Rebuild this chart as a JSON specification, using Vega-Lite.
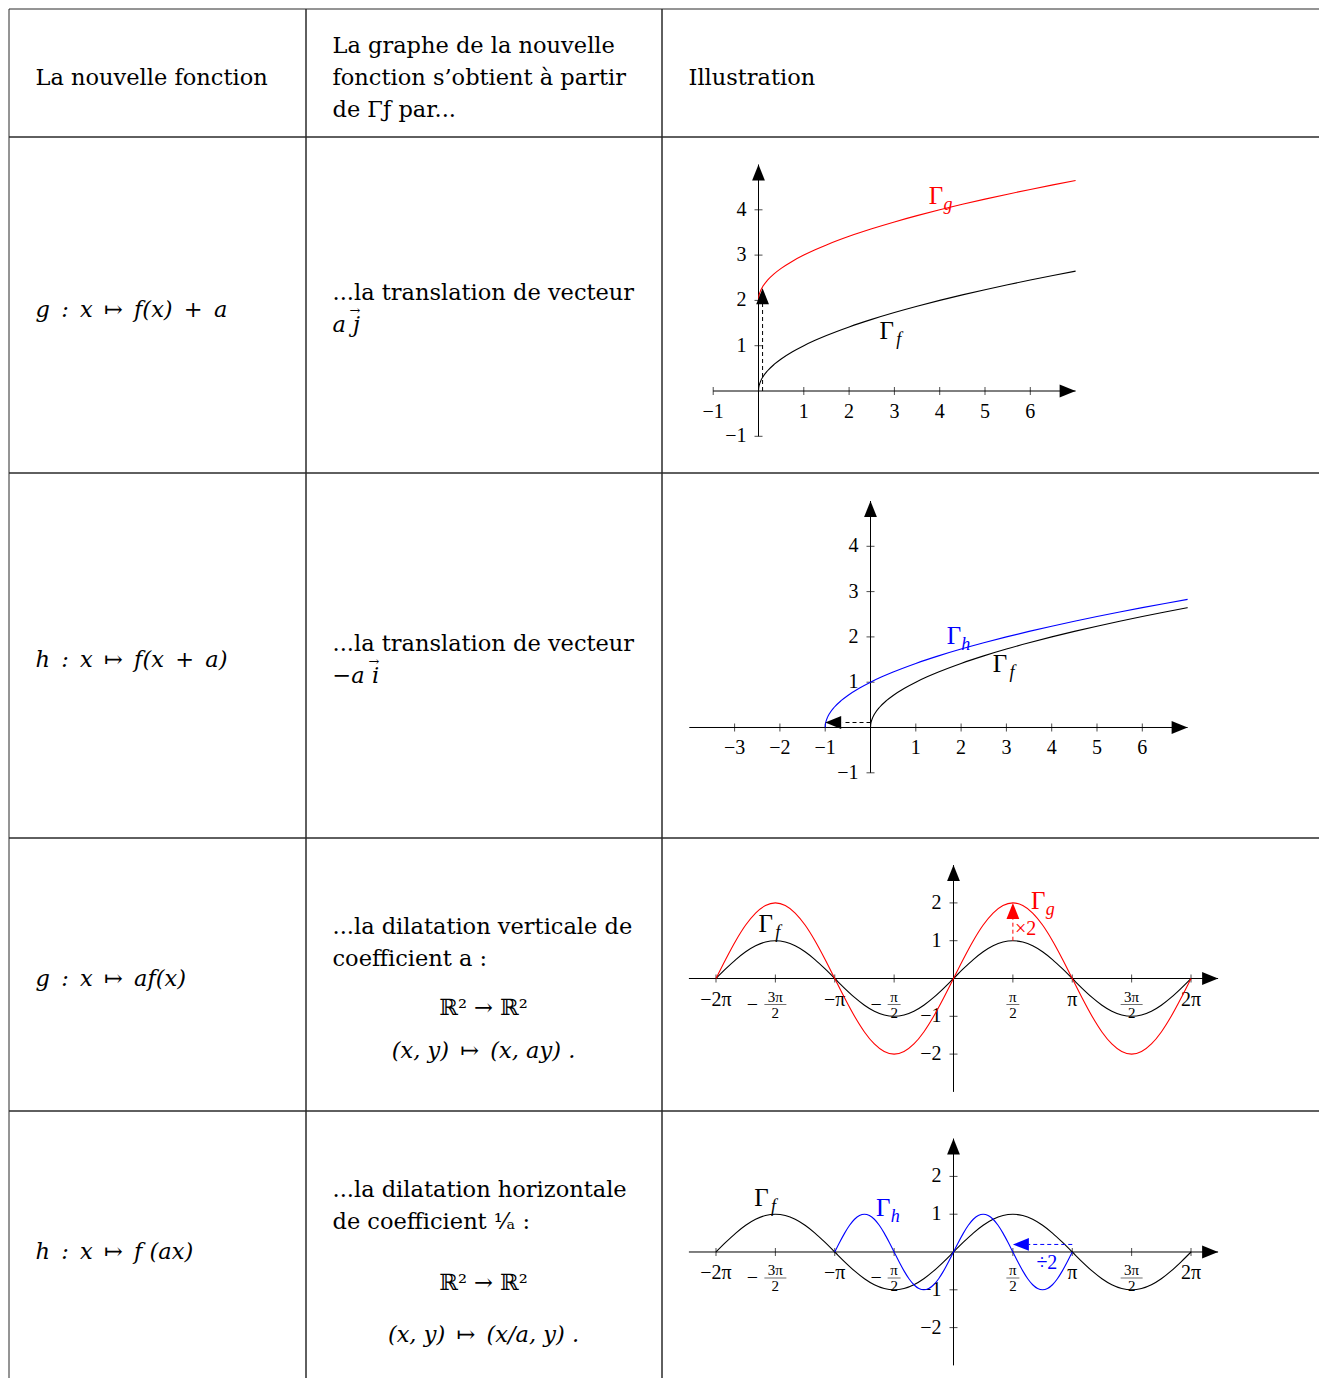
{
"$schema":"https://vega.github.io/schema/vega-lite/v6.json",
"padding":{"left":7.5,"top":7.5,"right":0,"bottom":0},
"background":"white",
"columns":3,
"spacing":0,
"bounds":"flush",
"align":"each",
"config":{"view":{"stroke":"#2a2a2a","strokeWidth":1},"font":"DejaVu Serif","concat":{"spacing":0}},
"datasets":{
"c1ax":[{"x":-1,"y":0,"x2":7,"y2":0},{"x":0,"y":-1,"x2":0,"y2":5}],
"c1xt":[{"x":-1,"y":0,"t":"−1"},{"x":1,"y":0,"t":"1"},{"x":2,"y":0,"t":"2"},{"x":3,"y":0,"t":"3"},{"x":4,"y":0,"t":"4"},{"x":5,"y":0,"t":"5"},{"x":6,"y":0,"t":"6"}],
"c1yt":[{"x":0,"y":-1,"t":"−1"},{"x":0,"y":1,"t":"1"},{"x":0,"y":2,"t":"2"},{"x":0,"y":3,"t":"3"},{"x":0,"y":4,"t":"4"}],
"sqf":[{"x":0,"y":0,"s":"f"},{"x":0.005,"y":0.0707,"s":"f"},{"x":0.01,"y":0.1,"s":"f"},{"x":0.02,"y":0.1414,"s":"f"},{"x":0.05,"y":0.2236,"s":"f"},{"x":0.1,"y":0.3162,"s":"f"},{"x":0.2,"y":0.4472,"s":"f"},{"x":0.35,"y":0.5916,"s":"f"},{"x":0.5,"y":0.7071,"s":"f"},{"x":0.75,"y":0.866,"s":"f"},{"x":1,"y":1,"s":"f"},{"x":1.25,"y":1.118,"s":"f"},{"x":1.5,"y":1.2247,"s":"f"},{"x":2,"y":1.4142,"s":"f"},{"x":2.5,"y":1.5811,"s":"f"},{"x":3,"y":1.7321,"s":"f"},{"x":3.5,"y":1.8708,"s":"f"},{"x":4,"y":2,"s":"f"},{"x":4.5,"y":2.1213,"s":"f"},{"x":5,"y":2.2361,"s":"f"},{"x":5.5,"y":2.3452,"s":"f"},{"x":6,"y":2.4495,"s":"f"},{"x":6.5,"y":2.5495,"s":"f"},{"x":7,"y":2.6458,"s":"f"}],
"sqg":[{"x":0,"y":2,"s":"g"},{"x":0.005,"y":2.0707,"s":"g"},{"x":0.01,"y":2.1,"s":"g"},{"x":0.02,"y":2.1414,"s":"g"},{"x":0.05,"y":2.2236,"s":"g"},{"x":0.1,"y":2.3162,"s":"g"},{"x":0.2,"y":2.4472,"s":"g"},{"x":0.35,"y":2.5916,"s":"g"},{"x":0.5,"y":2.7071,"s":"g"},{"x":0.75,"y":2.866,"s":"g"},{"x":1,"y":3,"s":"g"},{"x":1.25,"y":3.118,"s":"g"},{"x":1.5,"y":3.2247,"s":"g"},{"x":2,"y":3.4142,"s":"g"},{"x":2.5,"y":3.5811,"s":"g"},{"x":3,"y":3.7321,"s":"g"},{"x":3.5,"y":3.8708,"s":"g"},{"x":4,"y":4,"s":"g"},{"x":4.5,"y":4.1213,"s":"g"},{"x":5,"y":4.2361,"s":"g"},{"x":5.5,"y":4.3452,"s":"g"},{"x":6,"y":4.4495,"s":"g"},{"x":6.5,"y":4.5495,"s":"g"},{"x":7,"y":4.6458,"s":"g"}],
"sqh":[{"x":-1,"y":0,"s":"h"},{"x":-0.995,"y":0.0707,"s":"h"},{"x":-0.99,"y":0.1,"s":"h"},{"x":-0.98,"y":0.1414,"s":"h"},{"x":-0.95,"y":0.2236,"s":"h"},{"x":-0.9,"y":0.3162,"s":"h"},{"x":-0.8,"y":0.4472,"s":"h"},{"x":-0.65,"y":0.5916,"s":"h"},{"x":-0.5,"y":0.7071,"s":"h"},{"x":-0.25,"y":0.866,"s":"h"},{"x":0,"y":1,"s":"h"},{"x":0.25,"y":1.118,"s":"h"},{"x":0.5,"y":1.2247,"s":"h"},{"x":1,"y":1.4142,"s":"h"},{"x":1.5,"y":1.5811,"s":"h"},{"x":2,"y":1.7321,"s":"h"},{"x":2.5,"y":1.8708,"s":"h"},{"x":3,"y":2,"s":"h"},{"x":3.5,"y":2.1213,"s":"h"},{"x":4,"y":2.2361,"s":"h"},{"x":4.5,"y":2.3452,"s":"h"},{"x":5,"y":2.4495,"s":"h"},{"x":5.5,"y":2.5495,"s":"h"},{"x":6,"y":2.6458,"s":"h"},{"x":6.5,"y":2.7386,"s":"h"},{"x":7,"y":2.8284,"s":"h"}],
"c1da":[{"x":0.09,"y":0,"x2":0.09,"y2":1.93,"s":"f"}],
"c1hd":[{"x":7,"y":0,"d":"right","s":"f"},{"x":0,"y":5,"d":"up","s":"f"},{"x":0.09,"y":2.27,"d":"up","s":"f"}],
"c1lb":[{"x":3.92,"y":4.3,"sub":"g","s":"g"},{"x":2.83,"y":1.32,"sub":"f","s":"f"}],
"c2ax":[{"x":-4,"y":0,"x2":7,"y2":0},{"x":0,"y":-1,"x2":0,"y2":5}],
"c2xt":[{"x":-3,"y":0,"t":"−3"},{"x":-2,"y":0,"t":"−2"},{"x":-1,"y":0,"t":"−1"},{"x":1,"y":0,"t":"1"},{"x":2,"y":0,"t":"2"},{"x":3,"y":0,"t":"3"},{"x":4,"y":0,"t":"4"},{"x":5,"y":0,"t":"5"},{"x":6,"y":0,"t":"6"}],
"c2da":[{"x":0,"y":0.11,"x2":-0.62,"y2":0.11,"s":"f"}],
"c2hd":[{"x":7,"y":0,"d":"right","s":"f"},{"x":0,"y":5,"d":"up","s":"f"},{"x":-1,"y":0.11,"d":"left","s":"f"}],
"c2lb":[{"x":1.84,"y":2.02,"sub":"h","s":"h"},{"x":2.86,"y":1.4,"sub":"f","s":"f"}],
"sax":[{"x":-7,"y":0,"x2":7,"y2":0},{"x":0,"y":-3,"x2":0,"y2":3}],
"sx":[{"x":-6.2832,"y":0,"t":"−2π","n":"","d":"","sg":""},{"x":-4.7124,"y":0,"t":"","n":"3π","d":"2","sg":"−"},{"x":-3.1416,"y":0,"t":"−π","n":"","d":"","sg":""},{"x":-1.5708,"y":0,"t":"","n":"π","d":"2","sg":"−"},{"x":1.5708,"y":0,"t":"","n":"π","d":"2","sg":""},{"x":3.1416,"y":0,"t":"π","n":"","d":"","sg":""},{"x":4.7124,"y":0,"t":"","n":"3π","d":"2","sg":""},{"x":6.2832,"y":0,"t":"2π","n":"","d":"","sg":""}],
"sy":[{"x":0,"y":-2,"t":"−2"},{"x":0,"y":-1,"t":"−1"},{"x":0,"y":1,"t":"1"},{"x":0,"y":2,"t":"2"}],
"sinf":[{"x":-6.2832,"y":0,"s":"f"},{"x":-6.0214,"y":0.2588,"s":"f"},{"x":-5.7596,"y":0.5,"s":"f"},{"x":-5.4978,"y":0.7071,"s":"f"},{"x":-5.236,"y":0.866,"s":"f"},{"x":-4.9742,"y":0.9659,"s":"f"},{"x":-4.7124,"y":1,"s":"f"},{"x":-4.4506,"y":0.9659,"s":"f"},{"x":-4.1888,"y":0.866,"s":"f"},{"x":-3.927,"y":0.7071,"s":"f"},{"x":-3.6652,"y":0.5,"s":"f"},{"x":-3.4034,"y":0.2588,"s":"f"},{"x":-3.1416,"y":0,"s":"f"},{"x":-2.8798,"y":-0.2588,"s":"f"},{"x":-2.618,"y":-0.5,"s":"f"},{"x":-2.3562,"y":-0.7071,"s":"f"},{"x":-2.0944,"y":-0.866,"s":"f"},{"x":-1.8326,"y":-0.9659,"s":"f"},{"x":-1.5708,"y":-1,"s":"f"},{"x":-1.309,"y":-0.9659,"s":"f"},{"x":-1.0472,"y":-0.866,"s":"f"},{"x":-0.7854,"y":-0.7071,"s":"f"},{"x":-0.5236,"y":-0.5,"s":"f"},{"x":-0.2618,"y":-0.2588,"s":"f"},{"x":0,"y":0,"s":"f"},{"x":0.2618,"y":0.2588,"s":"f"},{"x":0.5236,"y":0.5,"s":"f"},{"x":0.7854,"y":0.7071,"s":"f"},{"x":1.0472,"y":0.866,"s":"f"},{"x":1.309,"y":0.9659,"s":"f"},{"x":1.5708,"y":1,"s":"f"},{"x":1.8326,"y":0.9659,"s":"f"},{"x":2.0944,"y":0.866,"s":"f"},{"x":2.3562,"y":0.7071,"s":"f"},{"x":2.618,"y":0.5,"s":"f"},{"x":2.8798,"y":0.2588,"s":"f"},{"x":3.1416,"y":0,"s":"f"},{"x":3.4034,"y":-0.2588,"s":"f"},{"x":3.6652,"y":-0.5,"s":"f"},{"x":3.927,"y":-0.7071,"s":"f"},{"x":4.1888,"y":-0.866,"s":"f"},{"x":4.4506,"y":-0.9659,"s":"f"},{"x":4.7124,"y":-1,"s":"f"},{"x":4.9742,"y":-0.9659,"s":"f"},{"x":5.236,"y":-0.866,"s":"f"},{"x":5.4978,"y":-0.7071,"s":"f"},{"x":5.7596,"y":-0.5,"s":"f"},{"x":6.0214,"y":-0.2588,"s":"f"},{"x":6.2832,"y":0,"s":"f"}],
"sing":[{"x":-6.2832,"y":0,"s":"g"},{"x":-6.0214,"y":0.5176,"s":"g"},{"x":-5.7596,"y":1,"s":"g"},{"x":-5.4978,"y":1.4142,"s":"g"},{"x":-5.236,"y":1.7321,"s":"g"},{"x":-4.9742,"y":1.9319,"s":"g"},{"x":-4.7124,"y":2,"s":"g"},{"x":-4.4506,"y":1.9319,"s":"g"},{"x":-4.1888,"y":1.7321,"s":"g"},{"x":-3.927,"y":1.4142,"s":"g"},{"x":-3.6652,"y":1,"s":"g"},{"x":-3.4034,"y":0.5176,"s":"g"},{"x":-3.1416,"y":0,"s":"g"},{"x":-2.8798,"y":-0.5176,"s":"g"},{"x":-2.618,"y":-1,"s":"g"},{"x":-2.3562,"y":-1.4142,"s":"g"},{"x":-2.0944,"y":-1.7321,"s":"g"},{"x":-1.8326,"y":-1.9319,"s":"g"},{"x":-1.5708,"y":-2,"s":"g"},{"x":-1.309,"y":-1.9319,"s":"g"},{"x":-1.0472,"y":-1.7321,"s":"g"},{"x":-0.7854,"y":-1.4142,"s":"g"},{"x":-0.5236,"y":-1,"s":"g"},{"x":-0.2618,"y":-0.5176,"s":"g"},{"x":0,"y":0,"s":"g"},{"x":0.2618,"y":0.5176,"s":"g"},{"x":0.5236,"y":1,"s":"g"},{"x":0.7854,"y":1.4142,"s":"g"},{"x":1.0472,"y":1.7321,"s":"g"},{"x":1.309,"y":1.9319,"s":"g"},{"x":1.5708,"y":2,"s":"g"},{"x":1.8326,"y":1.9319,"s":"g"},{"x":2.0944,"y":1.7321,"s":"g"},{"x":2.3562,"y":1.4142,"s":"g"},{"x":2.618,"y":1,"s":"g"},{"x":2.8798,"y":0.5176,"s":"g"},{"x":3.1416,"y":0,"s":"g"},{"x":3.4034,"y":-0.5176,"s":"g"},{"x":3.6652,"y":-1,"s":"g"},{"x":3.927,"y":-1.4142,"s":"g"},{"x":4.1888,"y":-1.7321,"s":"g"},{"x":4.4506,"y":-1.9319,"s":"g"},{"x":4.7124,"y":-2,"s":"g"},{"x":4.9742,"y":-1.9319,"s":"g"},{"x":5.236,"y":-1.7321,"s":"g"},{"x":5.4978,"y":-1.4142,"s":"g"},{"x":5.7596,"y":-1,"s":"g"},{"x":6.0214,"y":-0.5176,"s":"g"},{"x":6.2832,"y":0,"s":"g"}],
"sinh":[{"x":-3.1416,"y":0,"s":"h"},{"x":-3.0107,"y":0.2588,"s":"h"},{"x":-2.8798,"y":0.5,"s":"h"},{"x":-2.7489,"y":0.7071,"s":"h"},{"x":-2.618,"y":0.866,"s":"h"},{"x":-2.4871,"y":0.9659,"s":"h"},{"x":-2.3562,"y":1,"s":"h"},{"x":-2.2253,"y":0.9659,"s":"h"},{"x":-2.0944,"y":0.866,"s":"h"},{"x":-1.9635,"y":0.7071,"s":"h"},{"x":-1.8326,"y":0.5,"s":"h"},{"x":-1.7017,"y":0.2588,"s":"h"},{"x":-1.5708,"y":0,"s":"h"},{"x":-1.4399,"y":-0.2588,"s":"h"},{"x":-1.309,"y":-0.5,"s":"h"},{"x":-1.1781,"y":-0.7071,"s":"h"},{"x":-1.0472,"y":-0.866,"s":"h"},{"x":-0.9163,"y":-0.9659,"s":"h"},{"x":-0.7854,"y":-1,"s":"h"},{"x":-0.6545,"y":-0.9659,"s":"h"},{"x":-0.5236,"y":-0.866,"s":"h"},{"x":-0.3927,"y":-0.7071,"s":"h"},{"x":-0.2618,"y":-0.5,"s":"h"},{"x":-0.1309,"y":-0.2588,"s":"h"},{"x":0,"y":0,"s":"h"},{"x":0.1309,"y":0.2588,"s":"h"},{"x":0.2618,"y":0.5,"s":"h"},{"x":0.3927,"y":0.7071,"s":"h"},{"x":0.5236,"y":0.866,"s":"h"},{"x":0.6545,"y":0.9659,"s":"h"},{"x":0.7854,"y":1,"s":"h"},{"x":0.9163,"y":0.9659,"s":"h"},{"x":1.0472,"y":0.866,"s":"h"},{"x":1.1781,"y":0.7071,"s":"h"},{"x":1.309,"y":0.5,"s":"h"},{"x":1.4399,"y":0.2588,"s":"h"},{"x":1.5708,"y":0,"s":"h"},{"x":1.7017,"y":-0.2588,"s":"h"},{"x":1.8326,"y":-0.5,"s":"h"},{"x":1.9635,"y":-0.7071,"s":"h"},{"x":2.0944,"y":-0.866,"s":"h"},{"x":2.2253,"y":-0.9659,"s":"h"},{"x":2.3562,"y":-1,"s":"h"},{"x":2.4871,"y":-0.9659,"s":"h"},{"x":2.618,"y":-0.866,"s":"h"},{"x":2.7489,"y":-0.7071,"s":"h"},{"x":2.8798,"y":-0.5,"s":"h"},{"x":3.0107,"y":-0.2588,"s":"h"},{"x":3.1416,"y":0,"s":"h"}],
"c3da":[{"x":1.5708,"y":1,"x2":1.5708,"y2":1.6,"s":"g"}],
"c3hd":[{"x":7,"y":0,"d":"right","s":"f"},{"x":0,"y":3,"d":"up","s":"f"},{"x":1.5708,"y":2,"d":"up","s":"g"}],
"c3lb":[{"x":-4.97,"y":1.45,"sub":"f","s":"f"},{"x":2.24,"y":2.05,"sub":"g","s":"g"}],
"c3an":[{"x":1.5708,"y":1.3,"t":"×2","s":"g"}],
"c4da":[{"x":3.1416,"y":0.2,"x2":1.99,"y2":0.2,"s":"h"}],
"c4hd":[{"x":7,"y":0,"d":"right","s":"f"},{"x":0,"y":3,"d":"up","s":"f"},{"x":1.5708,"y":0.2,"d":"left","s":"h"}],
"c4lb":[{"x":-5.08,"y":1.44,"sub":"f","s":"f"},{"x":-1.86,"y":1.16,"sub":"h","s":"h"}],
"c4an":[{"x":2.47,"y":-0.28,"t":"÷2","s":"h"}]
},
"concat":[
 {"width":297,"height":128,"data":{"values":[{"t":["La nouvelle fonction"]}]},"mark":{"type":"text","align":"left","baseline":"alphabetic","dx":27,"dy":12.5,"fontSize":22.5,"lineHeight":32,"color":"black"},"encoding":{"x":{"datum":0,"type":"quantitative","scale":{"domain":[0,1]},"axis":null},"text":{"field":"t","type":"nominal"}}},
 {"width":356,"height":128,"data":{"values":[{"t":["La graphe de la nouvelle","fonction s’obtient à partir","de Γƒ par..."]}]},"mark":{"type":"text","align":"left","baseline":"alphabetic","dx":27,"dy":-19.5,"fontSize":22.5,"lineHeight":32,"color":"black"},"encoding":{"x":{"datum":0,"type":"quantitative","scale":{"domain":[0,1]},"axis":null},"text":{"field":"t","type":"nominal"}}},
 {"width":660,"height":128,"data":{"values":[{"t":["Illustration"]}]},"mark":{"type":"text","align":"left","baseline":"alphabetic","dx":27,"dy":12.5,"fontSize":22.5,"lineHeight":32,"color":"black"},"encoding":{"x":{"datum":0,"type":"quantitative","scale":{"domain":[0,1]},"axis":null},"text":{"field":"t","type":"nominal"}}},

 {"width":297,"height":336,"data":{"values":[{"t":["g\u2002:\u2002x\u2002↦\u2002f(x)\u2002+\u2002a"]}]},"mark":{"type":"text","align":"left","baseline":"alphabetic","dx":27,"dy":12.5,"fontSize":22.5,"fontStyle":"italic","lineHeight":32,"color":"black"},"encoding":{"x":{"datum":0,"type":"quantitative","scale":{"domain":[0,1]},"axis":null},"text":{"field":"t","type":"nominal"}}},
 {"width":356,"height":336,
  "layer":[
   {"data":{"values":[{"t":["...la translation de vecteur"]}]},"mark":{"type":"text","align":"left","baseline":"alphabetic","dx":27,"dy":-4.5,"fontSize":22.5,"color":"black"},"encoding":{"x":{"datum":0,"type":"quantitative","scale":{"domain":[0,1]},"axis":null},"text":{"field":"t","type":"nominal"}}},
   {"data":{"values":[{"t":["a j"]}]},"mark":{"type":"text","align":"left","baseline":"alphabetic","dx":27,"dy":27.5,"fontSize":22.5,"fontStyle":"italic","color":"black"},"encoding":{"x":{"datum":0,"type":"quantitative","scale":{"domain":[0,1]},"axis":null},"text":{"field":"t","type":"nominal"}}},
   {"data":{"values":[{"t":["→"]}]},"mark":{"type":"text","align":"left","baseline":"alphabetic","dx":44,"dy":10,"fontSize":13,"color":"black"},"encoding":{"x":{"datum":0,"type":"quantitative","scale":{"domain":[0,1]},"axis":null},"text":{"field":"t","type":"nominal"}}}
  ]},
 {"width":660,"height":336,
  "encoding":{"x":{"field":"x","type":"quantitative","scale":{"domain":[-2.1413,12.4283],"nice":false,"zero":false},"axis":null},"y":{"field":"y","type":"quantitative","scale":{"domain":[-1.7991,5.6181],"nice":false,"zero":false},"axis":null}},
  "layer":[
   {"data":{"name":"c1ax"},"mark":{"type":"rule","color":"black","strokeWidth":1},"encoding":{"x2":{"field":"x2"},"y2":{"field":"y2"}}},
   {"data":{"name":"c1xt"},"mark":{"type":"tick","orient":"vertical","size":8,"thickness":1,"color":"black"}},
   {"data":{"name":"c1yt"},"mark":{"type":"tick","orient":"horizontal","size":8,"thickness":1,"color":"black"}},
   {"data":{"name":"c1xt"},"mark":{"type":"text","baseline":"middle","dy":21,"font":"Liberation Serif","fontSize":20,"color":"black"},"encoding":{"text":{"field":"t","type":"nominal"}}},
   {"data":{"name":"c1yt"},"mark":{"type":"text","align":"right","baseline":"middle","dx":-12,"font":"Liberation Serif","fontSize":20,"color":"black"},"encoding":{"text":{"field":"t","type":"nominal"}}},
   {"data":{"name":"sqf"},"mark":{"type":"line","interpolate":"monotone","strokeWidth":1.1},"encoding":{"color":{"field":"s","type":"nominal","scale":{"domain":["f","g","h"],"range":["#000000","#ff0000","#0000ff"]},"legend":null}}},
   {"data":{"name":"sqg"},"mark":{"type":"line","interpolate":"monotone","strokeWidth":1.1},"encoding":{"color":{"field":"s","type":"nominal","scale":{"domain":["f","g","h"],"range":["#000000","#ff0000","#0000ff"]},"legend":null}}},
   {"data":{"name":"c1da"},"mark":{"type":"rule","strokeDash":[4,3],"strokeWidth":1},"encoding":{"x2":{"field":"x2"},"y2":{"field":"y2"},"color":{"field":"s","type":"nominal","scale":{"domain":["f","g","h"],"range":["#000000","#ff0000","#0000ff"]},"legend":null}}},
   {"data":{"name":"c1hd"},"mark":{"type":"point","filled":true,"opacity":1,"size":256,"strokeWidth":0},"encoding":{"shape":{"field":"d","type":"nominal","scale":{"domain":["right","up","left"],"range":["M0,0L-2,-0.8L-2,0.8Z","M0,0L-0.8,2L0.8,2Z","M0,0L2,-0.8L2,0.8Z"]},"legend":null},"color":{"field":"s","type":"nominal","scale":{"domain":["f","g","h"],"range":["#000000","#ff0000","#0000ff"]},"legend":null}}},
   {"data":{"name":"c1lb"},"mark":{"type":"text","text":"Γ","font":"Liberation Serif","fontSize":25,"baseline":"middle"},"encoding":{"color":{"field":"s","type":"nominal","scale":{"domain":["f","g","h"],"range":["#000000","#ff0000","#0000ff"]},"legend":null}}},
   {"data":{"name":"c1lb"},"mark":{"type":"text","font":"Liberation Serif","fontSize":18,"fontStyle":"italic","baseline":"middle","dx":12,"dy":9},"encoding":{"text":{"field":"sub","type":"nominal"},"color":{"field":"s","type":"nominal","scale":{"domain":["f","g","h"],"range":["#000000","#ff0000","#0000ff"]},"legend":null}}}
  ]},

 {"width":297,"height":365,"data":{"values":[{"t":["h\u2002:\u2002x\u2002↦\u2002f(x\u2002+\u2002a)"]}]},"mark":{"type":"text","align":"left","baseline":"alphabetic","dx":27,"dy":12,"fontSize":22.5,"fontStyle":"italic","lineHeight":32,"color":"black"},"encoding":{"x":{"datum":0,"type":"quantitative","scale":{"domain":[0,1]},"axis":null},"text":{"field":"t","type":"nominal"}}},
 {"width":356,"height":365,
  "layer":[
   {"data":{"values":[{"t":["...la translation de vecteur"]}]},"mark":{"type":"text","align":"left","baseline":"alphabetic","dx":27,"dy":-4,"fontSize":22.5,"color":"black"},"encoding":{"x":{"datum":0,"type":"quantitative","scale":{"domain":[0,1]},"axis":null},"text":{"field":"t","type":"nominal"}}},
   {"data":{"values":[{"t":["−a i"]}]},"mark":{"type":"text","align":"left","baseline":"alphabetic","dx":27,"dy":28,"fontSize":22.5,"fontStyle":"italic","color":"black"},"encoding":{"x":{"datum":0,"type":"quantitative","scale":{"domain":[0,1]},"axis":null},"text":{"field":"t","type":"nominal"}}},
   {"data":{"values":[{"t":["→"]}]},"mark":{"type":"text","align":"left","baseline":"alphabetic","dx":63,"dy":10.5,"fontSize":13,"color":"black"},"encoding":{"x":{"datum":0,"type":"quantitative","scale":{"domain":[0,1]},"axis":null},"text":{"field":"t","type":"nominal"}}}
  ]},
 {"width":660,"height":365,
  "encoding":{"x":{"field":"x","type":"quantitative","scale":{"domain":[-4.6137,9.9558],"nice":false,"zero":false},"axis":null},"y":{"field":"y","type":"quantitative","scale":{"domain":[-2.4283,5.6291],"nice":false,"zero":false},"axis":null}},
  "layer":[
   {"data":{"name":"c2ax"},"mark":{"type":"rule","color":"black","strokeWidth":1},"encoding":{"x2":{"field":"x2"},"y2":{"field":"y2"}}},
   {"data":{"name":"c2xt"},"mark":{"type":"tick","orient":"vertical","size":8,"thickness":1,"color":"black"}},
   {"data":{"name":"c1yt"},"mark":{"type":"tick","orient":"horizontal","size":8,"thickness":1,"color":"black"}},
   {"data":{"name":"c2xt"},"mark":{"type":"text","baseline":"middle","dy":21,"font":"Liberation Serif","fontSize":20,"color":"black"},"encoding":{"text":{"field":"t","type":"nominal"}}},
   {"data":{"name":"c1yt"},"mark":{"type":"text","align":"right","baseline":"middle","dx":-12,"font":"Liberation Serif","fontSize":20,"color":"black"},"encoding":{"text":{"field":"t","type":"nominal"}}},
   {"data":{"name":"sqf"},"mark":{"type":"line","interpolate":"monotone","strokeWidth":1.1},"encoding":{"color":{"field":"s","type":"nominal","scale":{"domain":["f","g","h"],"range":["#000000","#ff0000","#0000ff"]},"legend":null}}},
   {"data":{"name":"sqh"},"mark":{"type":"line","interpolate":"monotone","strokeWidth":1.1},"encoding":{"color":{"field":"s","type":"nominal","scale":{"domain":["f","g","h"],"range":["#000000","#ff0000","#0000ff"]},"legend":null}}},
   {"data":{"name":"c2da"},"mark":{"type":"rule","strokeDash":[4,3],"strokeWidth":1},"encoding":{"x2":{"field":"x2"},"y2":{"field":"y2"},"color":{"field":"s","type":"nominal","scale":{"domain":["f","g","h"],"range":["#000000","#ff0000","#0000ff"]},"legend":null}}},
   {"data":{"name":"c2hd"},"mark":{"type":"point","filled":true,"opacity":1,"size":256,"strokeWidth":0},"encoding":{"shape":{"field":"d","type":"nominal","scale":{"domain":["right","up","left"],"range":["M0,0L-2,-0.8L-2,0.8Z","M0,0L-0.8,2L0.8,2Z","M0,0L2,-0.8L2,0.8Z"]},"legend":null},"color":{"field":"s","type":"nominal","scale":{"domain":["f","g","h"],"range":["#000000","#ff0000","#0000ff"]},"legend":null}}},
   {"data":{"name":"c2lb"},"mark":{"type":"text","text":"Γ","font":"Liberation Serif","fontSize":25,"baseline":"middle"},"encoding":{"color":{"field":"s","type":"nominal","scale":{"domain":["f","g","h"],"range":["#000000","#ff0000","#0000ff"]},"legend":null}}},
   {"data":{"name":"c2lb"},"mark":{"type":"text","font":"Liberation Serif","fontSize":18,"fontStyle":"italic","baseline":"middle","dx":12,"dy":9},"encoding":{"text":{"field":"sub","type":"nominal"},"color":{"field":"s","type":"nominal","scale":{"domain":["f","g","h"],"range":["#000000","#ff0000","#0000ff"]},"legend":null}}}
  ]},

 {"width":297,"height":273,"data":{"values":[{"t":["g\u2002:\u2002x\u2002↦\u2002af(x)"]}]},"mark":{"type":"text","align":"left","baseline":"alphabetic","dx":27,"dy":12,"fontSize":22.5,"fontStyle":"italic","lineHeight":32,"color":"black"},"encoding":{"x":{"datum":0,"type":"quantitative","scale":{"domain":[0,1]},"axis":null},"text":{"field":"t","type":"nominal"}}},
 {"width":356,"height":273,
  "layer":[
   {"data":{"values":[{"t":["...la dilatation verticale de","coefficient a :"]}]},"mark":{"type":"text","align":"left","baseline":"alphabetic","dx":27,"dy":-40,"fontSize":22.5,"lineHeight":32,"color":"black"},"encoding":{"x":{"datum":0,"type":"quantitative","scale":{"domain":[0,1]},"axis":null},"text":{"field":"t","type":"nominal"}}},
   {"data":{"values":[{"t":["ℝ² → ℝ²"]}]},"mark":{"type":"text","align":"center","baseline":"alphabetic","dy":41,"fontSize":22.5,"color":"black"},"encoding":{"x":{"datum":0.5,"type":"quantitative","scale":{"domain":[0,1]},"axis":null},"text":{"field":"t","type":"nominal"}}},
   {"data":{"values":[{"t":["(x, y)\u2002↦\u2002(x, ay) ."]}]},"mark":{"type":"text","align":"center","baseline":"alphabetic","dy":84,"fontSize":22.5,"fontStyle":"italic","color":"black"},"encoding":{"x":{"datum":0.5,"type":"quantitative","scale":{"domain":[0,1]},"axis":null},"text":{"field":"t","type":"nominal"}}}
  ]},
 {"width":660,"height":273,
  "encoding":{"x":{"field":"x","type":"quantitative","scale":{"domain":[-7.7249,9.7354],"nice":false,"zero":false},"axis":null},"y":{"field":"y","type":"quantitative","scale":{"domain":[-3.4921,3.7302],"nice":false,"zero":false},"axis":null}},
  "layer":[
   {"data":{"name":"sax"},"mark":{"type":"rule","color":"black","strokeWidth":1},"encoding":{"x2":{"field":"x2"},"y2":{"field":"y2"}}},
   {"data":{"name":"sx"},"mark":{"type":"tick","orient":"vertical","size":8,"thickness":1,"color":"black"}},
   {"data":{"name":"sy"},"mark":{"type":"tick","orient":"horizontal","size":8,"thickness":1,"color":"black"}},
   {"data":{"name":"sx"},"transform":[{"filter":"datum.t != ''"}],"mark":{"type":"text","baseline":"middle","dy":21,"font":"Liberation Serif","fontSize":20,"color":"black"},"encoding":{"text":{"field":"t","type":"nominal"}}},
   {"data":{"name":"sx"},"transform":[{"filter":"datum.n != ''"}],"mark":{"type":"text","baseline":"middle","dy":18,"font":"Liberation Serif","fontSize":15,"color":"black"},"encoding":{"text":{"field":"n","type":"nominal"}}},
   {"data":{"name":"sx"},"transform":[{"filter":"datum.n != ''"}],"mark":{"type":"text","baseline":"middle","dy":34,"font":"Liberation Serif","fontSize":15,"color":"black"},"encoding":{"text":{"field":"d","type":"nominal"}}},
   {"data":{"name":"sx"},"transform":[{"filter":"datum.n == '3π'"}],"mark":{"type":"tick","orient":"horizontal","size":22,"thickness":0.8,"yOffset":26,"color":"black"}},
   {"data":{"name":"sx"},"transform":[{"filter":"datum.n == 'π'"}],"mark":{"type":"tick","orient":"horizontal","size":13,"thickness":0.8,"yOffset":26,"color":"black"}},
   {"data":{"name":"sx"},"transform":[{"filter":"datum.sg != '' && datum.n == '3π'"}],"mark":{"type":"text","baseline":"middle","dx":-23,"dy":26,"font":"Liberation Serif","fontSize":20,"color":"black"},"encoding":{"text":{"field":"sg","type":"nominal"}}},
   {"data":{"name":"sx"},"transform":[{"filter":"datum.sg != '' && datum.n == 'π'"}],"mark":{"type":"text","baseline":"middle","dx":-18,"dy":26,"font":"Liberation Serif","fontSize":20,"color":"black"},"encoding":{"text":{"field":"sg","type":"nominal"}}},
   {"data":{"name":"sy"},"mark":{"type":"text","align":"right","baseline":"middle","dx":-12,"font":"Liberation Serif","fontSize":20,"color":"black"},"encoding":{"text":{"field":"t","type":"nominal"}}},
   {"data":{"name":"sinf"},"mark":{"type":"line","interpolate":"monotone","strokeWidth":1.1},"encoding":{"color":{"field":"s","type":"nominal","scale":{"domain":["f","g","h"],"range":["#000000","#ff0000","#0000ff"]},"legend":null}}},
   {"data":{"name":"sing"},"mark":{"type":"line","interpolate":"monotone","strokeWidth":1.1},"encoding":{"color":{"field":"s","type":"nominal","scale":{"domain":["f","g","h"],"range":["#000000","#ff0000","#0000ff"]},"legend":null}}},
   {"data":{"name":"c3da"},"mark":{"type":"rule","strokeDash":[4,3],"strokeWidth":1},"encoding":{"x2":{"field":"x2"},"y2":{"field":"y2"},"color":{"field":"s","type":"nominal","scale":{"domain":["f","g","h"],"range":["#000000","#ff0000","#0000ff"]},"legend":null}}},
   {"data":{"name":"c3hd"},"mark":{"type":"point","filled":true,"opacity":1,"size":256,"strokeWidth":0},"encoding":{"shape":{"field":"d","type":"nominal","scale":{"domain":["right","up","left"],"range":["M0,0L-2,-0.8L-2,0.8Z","M0,0L-0.8,2L0.8,2Z","M0,0L2,-0.8L2,0.8Z"]},"legend":null},"color":{"field":"s","type":"nominal","scale":{"domain":["f","g","h"],"range":["#000000","#ff0000","#0000ff"]},"legend":null}}},
   {"data":{"name":"c3lb"},"mark":{"type":"text","text":"Γ","font":"Liberation Serif","fontSize":25,"baseline":"middle"},"encoding":{"color":{"field":"s","type":"nominal","scale":{"domain":["f","g","h"],"range":["#000000","#ff0000","#0000ff"]},"legend":null}}},
   {"data":{"name":"c3lb"},"mark":{"type":"text","font":"Liberation Serif","fontSize":18,"fontStyle":"italic","baseline":"middle","dx":12,"dy":9},"encoding":{"text":{"field":"sub","type":"nominal"},"color":{"field":"s","type":"nominal","scale":{"domain":["f","g","h"],"range":["#000000","#ff0000","#0000ff"]},"legend":null}}},
   {"data":{"name":"c3an"},"mark":{"type":"text","align":"left","baseline":"middle","dx":2,"font":"Liberation Serif","fontSize":20},"encoding":{"text":{"field":"t","type":"nominal"},"color":{"field":"s","type":"nominal","scale":{"domain":["f","g","h"],"range":["#000000","#ff0000","#0000ff"]},"legend":null}}}
  ]},

 {"width":297,"height":272,"data":{"values":[{"t":["h\u2002:\u2002x\u2002↦\u2002f (ax)"]}]},"mark":{"type":"text","align":"left","baseline":"alphabetic","dx":27,"dy":12.5,"fontSize":22.5,"fontStyle":"italic","lineHeight":32,"color":"black"},"encoding":{"x":{"datum":0,"type":"quantitative","scale":{"domain":[0,1]},"axis":null},"text":{"field":"t","type":"nominal"}}},
 {"width":356,"height":272,
  "layer":[
   {"data":{"values":[{"t":["...la dilatation horizontale","de coefficient ¹⁄ₐ :"]}]},"mark":{"type":"text","align":"left","baseline":"alphabetic","dx":27,"dy":-49.5,"fontSize":22.5,"lineHeight":32,"color":"black"},"encoding":{"x":{"datum":0,"type":"quantitative","scale":{"domain":[0,1]},"axis":null},"text":{"field":"t","type":"nominal"}}},
   {"data":{"values":[{"t":["ℝ² → ℝ²"]}]},"mark":{"type":"text","align":"center","baseline":"alphabetic","dy":43.5,"fontSize":22.5,"color":"black"},"encoding":{"x":{"datum":0.5,"type":"quantitative","scale":{"domain":[0,1]},"axis":null},"text":{"field":"t","type":"nominal"}}},
   {"data":{"values":[{"t":["(x, y)\u2002↦\u2002(x/a, y) ."]}]},"mark":{"type":"text","align":"center","baseline":"alphabetic","dy":95.5,"fontSize":22.5,"fontStyle":"italic","color":"black"},"encoding":{"x":{"datum":0.5,"type":"quantitative","scale":{"domain":[0,1]},"axis":null},"text":{"field":"t","type":"nominal"}}}
  ]},
 {"width":660,"height":272,
  "encoding":{"x":{"field":"x","type":"quantitative","scale":{"domain":[-7.7249,9.7354],"nice":false,"zero":false},"axis":null},"y":{"field":"y","type":"quantitative","scale":{"domain":[-3.4524,3.7434],"nice":false,"zero":false},"axis":null}},
  "layer":[
   {"data":{"name":"sax"},"mark":{"type":"rule","color":"black","strokeWidth":1},"encoding":{"x2":{"field":"x2"},"y2":{"field":"y2"}}},
   {"data":{"name":"sx"},"mark":{"type":"tick","orient":"vertical","size":8,"thickness":1,"color":"black"}},
   {"data":{"name":"sy"},"mark":{"type":"tick","orient":"horizontal","size":8,"thickness":1,"color":"black"}},
   {"data":{"name":"sx"},"transform":[{"filter":"datum.t != ''"}],"mark":{"type":"text","baseline":"middle","dy":21,"font":"Liberation Serif","fontSize":20,"color":"black"},"encoding":{"text":{"field":"t","type":"nominal"}}},
   {"data":{"name":"sx"},"transform":[{"filter":"datum.n != ''"}],"mark":{"type":"text","baseline":"middle","dy":18,"font":"Liberation Serif","fontSize":15,"color":"black"},"encoding":{"text":{"field":"n","type":"nominal"}}},
   {"data":{"name":"sx"},"transform":[{"filter":"datum.n != ''"}],"mark":{"type":"text","baseline":"middle","dy":34,"font":"Liberation Serif","fontSize":15,"color":"black"},"encoding":{"text":{"field":"d","type":"nominal"}}},
   {"data":{"name":"sx"},"transform":[{"filter":"datum.n == '3π'"}],"mark":{"type":"tick","orient":"horizontal","size":22,"thickness":0.8,"yOffset":26,"color":"black"}},
   {"data":{"name":"sx"},"transform":[{"filter":"datum.n == 'π'"}],"mark":{"type":"tick","orient":"horizontal","size":13,"thickness":0.8,"yOffset":26,"color":"black"}},
   {"data":{"name":"sx"},"transform":[{"filter":"datum.sg != '' && datum.n == '3π'"}],"mark":{"type":"text","baseline":"middle","dx":-23,"dy":26,"font":"Liberation Serif","fontSize":20,"color":"black"},"encoding":{"text":{"field":"sg","type":"nominal"}}},
   {"data":{"name":"sx"},"transform":[{"filter":"datum.sg != '' && datum.n == 'π'"}],"mark":{"type":"text","baseline":"middle","dx":-18,"dy":26,"font":"Liberation Serif","fontSize":20,"color":"black"},"encoding":{"text":{"field":"sg","type":"nominal"}}},
   {"data":{"name":"sy"},"mark":{"type":"text","align":"right","baseline":"middle","dx":-12,"font":"Liberation Serif","fontSize":20,"color":"black"},"encoding":{"text":{"field":"t","type":"nominal"}}},
   {"data":{"name":"sinf"},"mark":{"type":"line","interpolate":"monotone","strokeWidth":1.1},"encoding":{"color":{"field":"s","type":"nominal","scale":{"domain":["f","g","h"],"range":["#000000","#ff0000","#0000ff"]},"legend":null}}},
   {"data":{"name":"sinh"},"mark":{"type":"line","interpolate":"monotone","strokeWidth":1.1},"encoding":{"color":{"field":"s","type":"nominal","scale":{"domain":["f","g","h"],"range":["#000000","#ff0000","#0000ff"]},"legend":null}}},
   {"data":{"name":"c4da"},"mark":{"type":"rule","strokeDash":[4,3],"strokeWidth":1},"encoding":{"x2":{"field":"x2"},"y2":{"field":"y2"},"color":{"field":"s","type":"nominal","scale":{"domain":["f","g","h"],"range":["#000000","#ff0000","#0000ff"]},"legend":null}}},
   {"data":{"name":"c4hd"},"mark":{"type":"point","filled":true,"opacity":1,"size":256,"strokeWidth":0},"encoding":{"shape":{"field":"d","type":"nominal","scale":{"domain":["right","up","left"],"range":["M0,0L-2,-0.8L-2,0.8Z","M0,0L-0.8,2L0.8,2Z","M0,0L2,-0.8L2,0.8Z"]},"legend":null},"color":{"field":"s","type":"nominal","scale":{"domain":["f","g","h"],"range":["#000000","#ff0000","#0000ff"]},"legend":null}}},
   {"data":{"name":"c4lb"},"mark":{"type":"text","text":"Γ","font":"Liberation Serif","fontSize":25,"baseline":"middle"},"encoding":{"color":{"field":"s","type":"nominal","scale":{"domain":["f","g","h"],"range":["#000000","#ff0000","#0000ff"]},"legend":null}}},
   {"data":{"name":"c4lb"},"mark":{"type":"text","font":"Liberation Serif","fontSize":18,"fontStyle":"italic","baseline":"middle","dx":12,"dy":9},"encoding":{"text":{"field":"sub","type":"nominal"},"color":{"field":"s","type":"nominal","scale":{"domain":["f","g","h"],"range":["#000000","#ff0000","#0000ff"]},"legend":null}}},
   {"data":{"name":"c4an"},"mark":{"type":"text","align":"center","baseline":"middle","font":"Liberation Serif","fontSize":20},"encoding":{"text":{"field":"t","type":"nominal"},"color":{"field":"s","type":"nominal","scale":{"domain":["f","g","h"],"range":["#000000","#ff0000","#0000ff"]},"legend":null}}}
  ]}
]
}
